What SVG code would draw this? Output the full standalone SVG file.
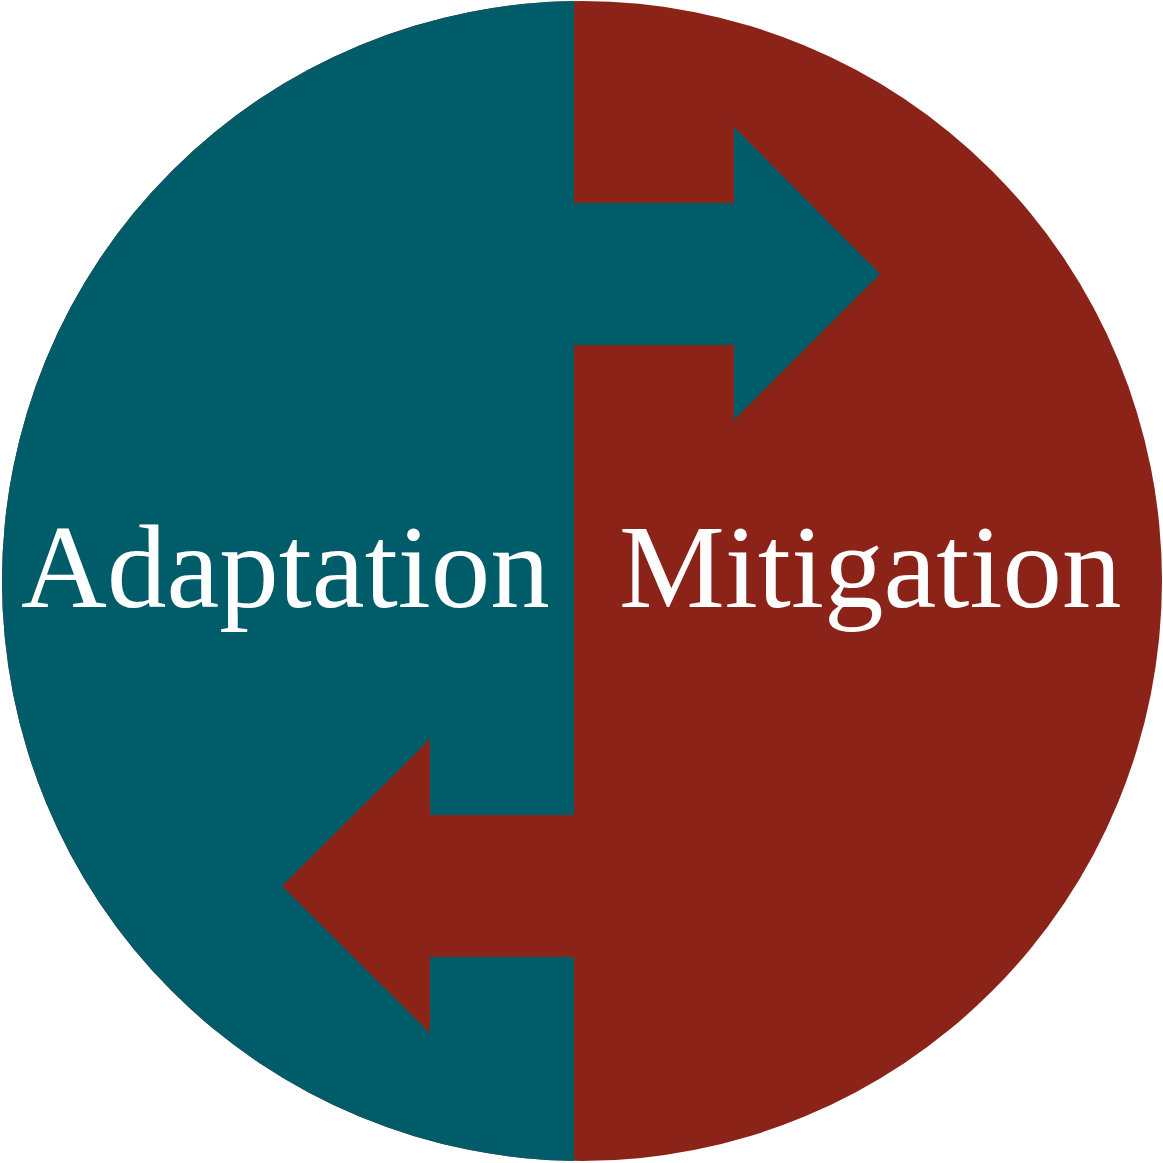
<svg xmlns="http://www.w3.org/2000/svg" width="1163" height="1163" viewBox="0 0 1163 1163">
  <style>
    .teal { fill: #005C69; }
    .red { fill: #8B2318; }
    .label { font-family: "Liberation Serif", "Times New Roman", serif; font-size: 119px; fill: #FFFFFF; }
  </style>
  <defs>
    <clipPath id="leftHalf">
      <rect x="0" y="0" width="574" height="1163"/>
    </clipPath>
  </defs>
  <rect x="0" y="0" width="1163" height="1163" fill="#FFFFFF"/>
  <g id="mitigation-half">
    <circle class="red" cx="582" cy="581" r="580"/>
  </g>
  <g id="adaptation-half">
    <circle class="teal" cx="582" cy="581" r="580" clip-path="url(#leftHalf)"/>
  </g>
  <g id="connectors">
    <polygon id="arrow-to-mitigation" class="teal" points="573,203 734,203 734,127 880,274 734,420 734,345 573,345"/>
    <polygon id="arrow-to-adaptation" class="red" points="575,815 430,815 430,739 282,886 430,1033 430,957 575,957"/>
  </g>
  <g id="node-adaptation">
    <text class="label" x="21" y="607">Adaptation</text>
  </g>
  <g id="node-mitigation">
    <text class="label" x="619" y="607">Mitigation</text>
  </g>
</svg>
